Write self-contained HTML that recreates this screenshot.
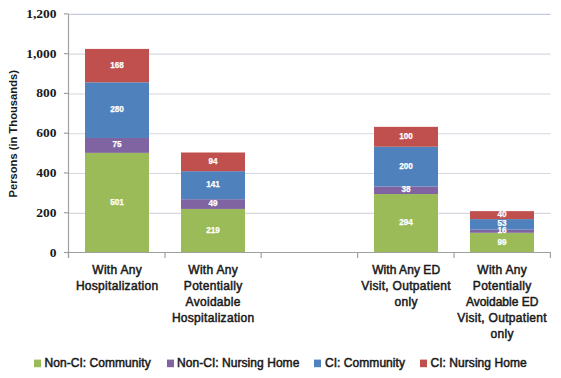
<!DOCTYPE html>
<html><head><meta charset="utf-8"><style>
html,body{margin:0;padding:0;background:#fff;}
body{width:561px;height:378px;overflow:hidden;}
svg{display:block;}
text{font-family:"Liberation Sans",sans-serif;font-weight:bold;fill:#1a1a1a;}
.dl{font-size:8.2px;fill:#fff;text-anchor:middle;stroke:#fff;stroke-width:0.25px;}
.yl{font-family:"Liberation Serif",serif;font-size:13.5px;text-anchor:end;}
.xl{font-size:12px;text-anchor:middle;font-weight:normal;stroke:#1a1a1a;stroke-width:0.5px;letter-spacing:0.3px;}
.yt{font-size:11.2px;text-anchor:middle;}
.lg{font-size:12px;font-weight:normal;stroke:#1a1a1a;stroke-width:0.5px;letter-spacing:0.05px;}
</style></head><body>
<svg width="561" height="378" viewBox="0 0 561 378">
<rect width="561" height="378" fill="#fff"/>
<line x1="68" y1="213.28" x2="550.5" y2="213.28" stroke="#D5D8DE" stroke-width="1.2"/>
<line x1="68" y1="173.52" x2="550.5" y2="173.52" stroke="#D5D8DE" stroke-width="1.2"/>
<line x1="68" y1="133.75" x2="550.5" y2="133.75" stroke="#D5D8DE" stroke-width="1.2"/>
<line x1="68" y1="93.99" x2="550.5" y2="93.99" stroke="#D5D8DE" stroke-width="1.2"/>
<line x1="68" y1="54.22" x2="550.5" y2="54.22" stroke="#D5D8DE" stroke-width="1.2"/>
<line x1="68" y1="14.45" x2="550.5" y2="14.45" stroke="#C5CBDD" stroke-width="1.2"/>
<rect x="85.00" y="152.89" width="64.0" height="99.61" fill="#9BBB59"/>
<rect x="85.00" y="137.97" width="64.0" height="14.91" fill="#8064A2"/>
<rect x="85.00" y="82.30" width="64.0" height="55.67" fill="#4F81BD"/>
<rect x="85.00" y="48.90" width="64.0" height="33.40" fill="#C0504D"/>
<text x="117.00" y="204.69" class="dl">501</text>
<text x="117.00" y="147.43" class="dl">75</text>
<text x="117.00" y="112.14" class="dl">280</text>
<text x="117.00" y="67.60" class="dl">168</text>
<rect x="181.00" y="208.96" width="64.0" height="43.54" fill="#9BBB59"/>
<rect x="181.00" y="199.21" width="64.0" height="9.74" fill="#8064A2"/>
<rect x="181.00" y="171.18" width="64.0" height="28.04" fill="#4F81BD"/>
<rect x="181.00" y="152.49" width="64.0" height="18.69" fill="#C0504D"/>
<text x="213.00" y="232.73" class="dl">219</text>
<text x="213.00" y="206.08" class="dl">49</text>
<text x="213.00" y="187.20" class="dl">141</text>
<text x="213.00" y="163.83" class="dl">94</text>
<rect x="374.00" y="194.04" width="64.0" height="58.46" fill="#9BBB59"/>
<rect x="374.00" y="186.49" width="64.0" height="7.56" fill="#8064A2"/>
<rect x="374.00" y="146.72" width="64.0" height="39.77" fill="#4F81BD"/>
<rect x="374.00" y="126.84" width="64.0" height="19.88" fill="#C0504D"/>
<text x="406.00" y="225.27" class="dl">294</text>
<text x="406.00" y="192.27" class="dl">38</text>
<text x="406.00" y="168.61" class="dl">200</text>
<text x="406.00" y="138.78" class="dl">100</text>
<rect x="470.00" y="232.82" width="64.0" height="19.68" fill="#9BBB59"/>
<rect x="470.00" y="229.63" width="64.0" height="3.18" fill="#8064A2"/>
<rect x="470.00" y="219.10" width="64.0" height="10.54" fill="#4F81BD"/>
<rect x="470.00" y="211.14" width="64.0" height="7.95" fill="#C0504D"/>
<text x="502.00" y="244.66" class="dl">99</text>
<text x="502.00" y="233.23" class="dl">16</text>
<text x="502.00" y="226.37" class="dl">53</text>
<text x="502.00" y="217.12" class="dl">40</text>
<line x1="68.5" y1="14.5" x2="68.5" y2="258" stroke="#A0A0A0" stroke-width="1.2"/>
<line x1="64" y1="252.5" x2="551" y2="252.5" stroke="#A0A0A0" stroke-width="1.2"/>
<line x1="64" y1="252.50" x2="68.5" y2="252.50" stroke="#A0A0A0" stroke-width="1.2"/>
<text x="56.6" y="256.50" class="yl">0</text>
<line x1="64" y1="212.73" x2="68.5" y2="212.73" stroke="#A0A0A0" stroke-width="1.2"/>
<text x="56.6" y="216.73" class="yl">200</text>
<line x1="64" y1="172.97" x2="68.5" y2="172.97" stroke="#A0A0A0" stroke-width="1.2"/>
<text x="56.6" y="176.97" class="yl">400</text>
<line x1="64" y1="133.20" x2="68.5" y2="133.20" stroke="#A0A0A0" stroke-width="1.2"/>
<text x="56.6" y="137.20" class="yl">600</text>
<line x1="64" y1="93.44" x2="68.5" y2="93.44" stroke="#A0A0A0" stroke-width="1.2"/>
<text x="56.6" y="97.44" class="yl">800</text>
<line x1="64" y1="53.67" x2="68.5" y2="53.67" stroke="#A0A0A0" stroke-width="1.2"/>
<text x="56.6" y="57.67" class="yl">1,000</text>
<line x1="64" y1="13.90" x2="68.5" y2="13.90" stroke="#A0A0A0" stroke-width="1.2"/>
<text x="56.6" y="17.90" class="yl">1,200</text>
<line x1="68.50" y1="252.5" x2="68.50" y2="258" stroke="#A0A0A0" stroke-width="1.2"/>
<line x1="165.00" y1="252.5" x2="165.00" y2="258" stroke="#A0A0A0" stroke-width="1.2"/>
<line x1="261.20" y1="252.5" x2="261.20" y2="258" stroke="#A0A0A0" stroke-width="1.2"/>
<line x1="357.60" y1="252.5" x2="357.60" y2="258" stroke="#A0A0A0" stroke-width="1.2"/>
<line x1="454.00" y1="252.5" x2="454.00" y2="258" stroke="#A0A0A0" stroke-width="1.2"/>
<line x1="550.40" y1="252.5" x2="550.40" y2="258" stroke="#A0A0A0" stroke-width="1.2"/>
<text transform="translate(117.15,273.80) scale(1.0,1)" class="xl">With Any</text>
<text transform="translate(117.15,289.85) scale(1.0,1)" class="xl">Hospitalization</text>
<text transform="translate(213.15,273.80) scale(1.0,1)" class="xl">With Any</text>
<text transform="translate(213.15,289.85) scale(1.0,1)" class="xl">Potentially</text>
<text transform="translate(213.15,305.90) scale(1.0,1)" class="xl">Avoidable</text>
<text transform="translate(213.15,321.95) scale(1.0,1)" class="xl">Hospitalization</text>
<text transform="translate(406.15,273.80) scale(1.0,1)" class="xl" style="letter-spacing:0.05px">With Any ED</text>
<text transform="translate(406.15,289.85) scale(1.0,1)" class="xl">Visit, Outpatient</text>
<text transform="translate(406.15,305.90) scale(1.0,1)" class="xl">only</text>
<text transform="translate(502.15,273.80) scale(1.0,1)" class="xl">With Any</text>
<text transform="translate(502.15,289.85) scale(1.0,1)" class="xl">Potentially</text>
<text transform="translate(502.15,305.90) scale(1.0,1)" class="xl" style="letter-spacing:0.0px">Avoidable ED</text>
<text transform="translate(502.15,321.95) scale(1.0,1)" class="xl">Visit, Outpatient</text>
<text transform="translate(502.15,338.00) scale(1.0,1)" class="xl">only</text>
<text transform="translate(17.40,133.80) rotate(-90) scale(1.0,1)" class="yt">Persons (in Thousands)</text>
<rect x="34" y="359.6" width="7" height="7.6" fill="#9BBB59"/>
<text transform="translate(44.50,367.40) scale(1.0,1)" class="lg">Non-CI: Community</text>
<rect x="167" y="359.6" width="7" height="7.6" fill="#8064A2"/>
<text transform="translate(177.00,367.40) scale(1.0,1)" class="lg">Non-CI: Nursing Home</text>
<rect x="314" y="359.6" width="7" height="7.6" fill="#4F81BD"/>
<text transform="translate(325.00,367.40) scale(1.0,1)" class="lg">CI: Community</text>
<rect x="420" y="359.6" width="7" height="7.6" fill="#C0504D"/>
<text transform="translate(430.50,367.40) scale(1.0,1)" class="lg">CI: Nursing Home</text>
</svg>
</body></html>
